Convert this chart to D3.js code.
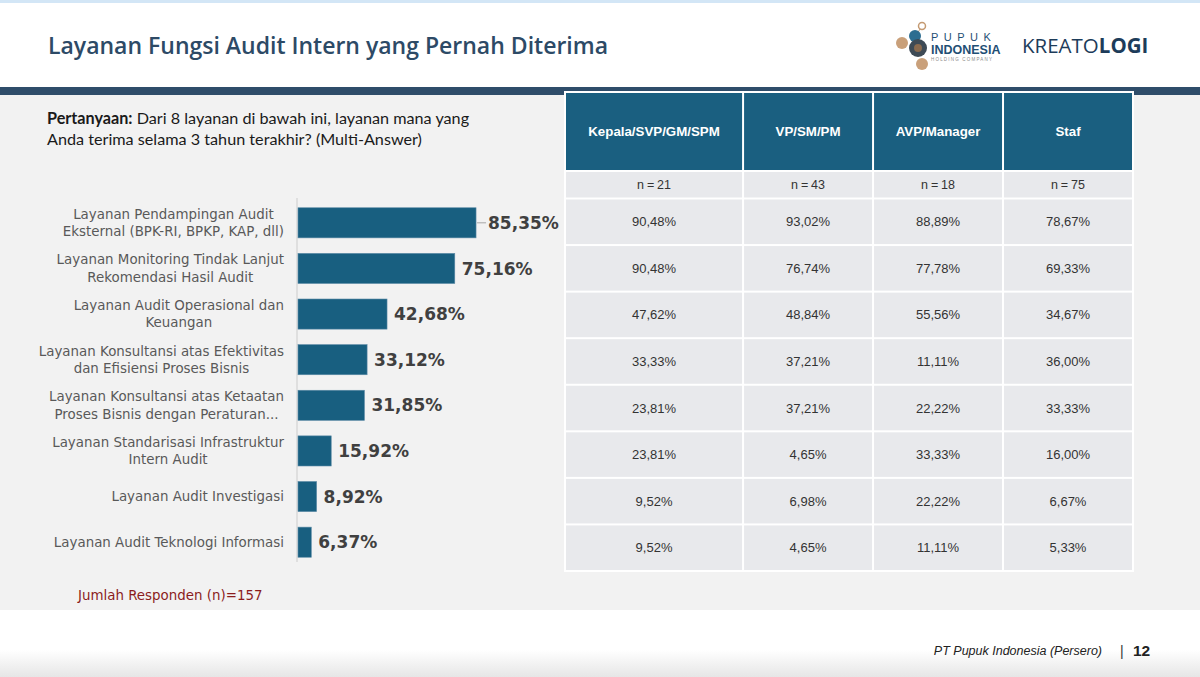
<!DOCTYPE html>
<html>
<head>
<meta charset="utf-8">
<script src="https://cdn.jsdelivr.net/npm/d3@7"></script>
<style>
  body { margin: 0; background: #ffffff; }
  svg { display: block; }
</style>
</head>
<body>
<div id="chart"></div>
<script>
// data
const services = [
  "Layanan Pendampingan Audit|Eksternal (BPK-RI, BPKP, KAP, dll)",
  "Layanan Monitoring Tindak Lanjut|Rekomendasi Hasil Audit",
  "Layanan Audit Operasional dan|Keuangan",
  "Layanan Konsultansi atas Efektivitas|dan Efisiensi Proses Bisnis",
  "Layanan Konsultansi atas Ketaatan|Proses Bisnis dengan Peraturan...",
  "Layanan Standarisasi Infrastruktur|Intern Audit",
  "Layanan Audit Investigasi",
  "Layanan Audit Teknologi Informasi"
];
const overall = [85.35, 75.16, 42.68, 33.12, 31.85, 15.92, 8.92, 6.37];

const groups = ["Kepala/SVP/GM/SPM", "VP/SM/PM", "AVP/Manager", "Staf"];
const groupN = [21, 43, 18, 75];
const kepala = [90.48, 90.48, 47.62, 33.33, 23.81, 23.81, 9.52, 9.52];
const vpsm = [93.02, 76.74, 48.84, 37.21, 37.21, 4.65, 6.98, 4.65];
const avp = [88.89, 77.78, 55.56, 11.11, 22.22, 33.33, 22.22, 11.11];
const staf = [78.67, 69.33, 34.67, 36.00, 33.33, 16.00, 6.67, 5.33];
const groupValues = [kepala, vpsm, avp, staf];

const totalRespondents = 157;

const W = 1200, H = 677;
const fmt = v => d3.format(".2f")(v).replace(".", ",") + "%";

const svg = d3.select("#chart").append("svg")
  .attr("width", W).attr("height", H);

// ---- page frame ----
const defs = svg.append("defs");
const grad = defs.append("linearGradient").attr("id", "foot")
  .attr("x1", 0).attr("y1", 0).attr("x2", 0).attr("y2", 1);
grad.append("stop").attr("offset", "0").attr("stop-color", "#ffffff");
grad.append("stop").attr("offset", "1").attr("stop-color", "#e6e6e6");

svg.append("rect").attr("width", W).attr("height", H).attr("fill", "#ffffff");
svg.append("rect").attr("width", W).attr("height", 3).attr("fill", "#d3e6f6");
svg.append("rect").attr("y", 94).attr("width", W).attr("height", 516).attr("fill", "#f2f2f2");
svg.append("rect").attr("y", 87).attr("width", W).attr("height", 8).attr("fill", "#2f4d6a");
svg.append("rect").attr("y", 650).attr("width", W).attr("height", 27).attr("fill", "url(#foot)");

svg.append("text")
  .attr("x", 48).attr("y", 54)
  .style("font-family", "'Open Sans', sans-serif")
  .style("font-weight", 600)
  .style("font-size", "23px")
  .style("fill", "#2d4a66")
  .text("Layanan Fungsi Audit Intern yang Pernah Diterima");

// logos (rough)
const logo = svg.append("g");
logo.append("circle").attr("cx", 922).attr("cy", 26).attr("r", 3.5)
  .attr("fill", "none").attr("stroke", "#c49a72").attr("stroke-width", 1.5);
logo.append("line").attr("x1", 920).attr("y1", 29).attr("x2", 917).attr("y2", 34)
  .attr("stroke", "#c49a72");
logo.append("circle").attr("cx", 902).attr("cy", 43).attr("r", 6).attr("fill", "#c9a07a");
logo.append("circle").attr("cx", 922).attr("cy", 64).attr("r", 6).attr("fill", "#c9a07a");
logo.append("circle").attr("cx", 915).attr("cy", 36).attr("r", 6).attr("fill", "#2c6d90");
logo.append("circle").attr("cx", 918).attr("cy", 48).attr("r", 9).attr("fill", "#3e4a55");
logo.append("circle").attr("cx", 918).attr("cy", 48).attr("r", 4).attr("fill", "#8a6a4e");
logo.append("text").attr("x", 931).attr("y", 41)
  .style("font-family", "'Liberation Sans', sans-serif").style("font-size", "11px")
  .style("letter-spacing", "5.5px").style("fill", "#1f4f75").text("PUPUK");
logo.append("text").attr("x", 931).attr("y", 54)
  .style("font-family", "'Liberation Sans', sans-serif").style("font-size", "12.5px")
  .style("font-weight", "bold").style("fill", "#1f4f75").text("INDONESIA");
logo.append("text").attr("x", 931).attr("y", 61)
  .style("font-family", "'Liberation Sans', sans-serif").style("font-size", "4.5px")
  .style("letter-spacing", "1.2px").style("fill", "#8a8a8a").text("HOLDING COMPANY");
const kt = svg.append("text").attr("x", 1022).attr("y", 53)
  .style("font-family", "'Open Sans', sans-serif").style("font-size", "20.5px")
  .style("fill", "#1d3c5a");
kt.append("tspan").style("font-weight", 400).text("KREATO");
kt.append("tspan").style("font-weight", 700).text("LOGI");

// ---- question ----
const q = svg.append("text").attr("x", 47).attr("y", 124)
  .style("font-family", "Lato, sans-serif").style("font-size", "16.2px").style("fill", "#1a1a1a");
q.append("tspan").style("font-weight", 700).text("Pertanyaan:");
q.append("tspan").text(" Dari 8 layanan di bawah ini, layanan mana yang");
svg.append("text").attr("x", 47).attr("y", 145)
  .style("font-family", "Lato, sans-serif").style("font-size", "16.2px").style("fill", "#1a1a1a")
  .text("Anda terima selama 3 tahun terakhir? (Multi-Answer)");

// ---- bar chart ----
const x0 = 298;
const x = d3.scaleLinear().domain([0, 100]).range([x0, x0 + 208.6]);
const y = d3.scaleBand().domain(services).range([200, 565]).paddingInner(0.34).paddingOuter(0.17);

svg.append("line")
  .attr("x1", x0 - 1).attr("x2", x0 - 1)
  .attr("y1", 198).attr("y2", 562)
  .attr("stroke", "#d9d9d9").attr("stroke-width", 1.5);

const bars = svg.append("g").selectAll("g").data(services).join("g");
bars.append("rect")
  .attr("x", x0)
  .attr("y", d => y(d))
  .attr("width", (d, i) => x(overall[i]) - x0)
  .attr("height", y.bandwidth())
  .attr("fill", "#185f80")
  .attr("stroke", "#5b8aa6").attr("stroke-width", 0.6);

// category labels: block right-aligned to the axis, lines centred in the block
const labelRight = 284;
bars.append("text")
  .attr("text-anchor", "middle")
  .attr("y", d => y(d) + y.bandwidth() / 2)
  .style("font-family", "'DejaVu Sans', sans-serif")
  .style("font-size", "13.4px")
  .style("fill", "#595959")
  .each(function (d) {
    const lines = d.split("|");
    const t = d3.select(this);
    const spans = lines.map((l, k) => t.append("tspan")
      .attr("dy", k === 0 ? (lines.length === 1 ? "0.35em" : "-0.3em") : "1.3em")
      .text(l));
    const maxW = d3.max(spans, s => s.node().getComputedTextLength());
    spans.forEach(s => s.attr("x", labelRight - maxW / 2));
  });

// first label sits a bit further out with a leader line
const gap = overall.map((v, i) => i === 0 ? 12 : 7);
bars.filter((d, i) => gap[i] > 8).append("line")
  .attr("x1", (d, i) => x(overall[i]) + 1)
  .attr("x2", (d, i) => x(overall[i]) + gap[i] - 2)
  .attr("y1", d => y(d) + y.bandwidth() / 2)
  .attr("y2", d => y(d) + y.bandwidth() / 2)
  .attr("stroke", "#a6a6a6");
bars.append("text")
  .attr("x", (d, i) => x(overall[i]) + gap[i])
  .attr("y", d => y(d) + y.bandwidth() / 2)
  .attr("dy", "0.36em")
  .style("font-family", "'DejaVu Sans', sans-serif")
  .style("font-weight", "bold")
  .style("font-size", "17px")
  .style("fill", "#404040")
  .text((d, i) => fmt(overall[i]));

svg.append("text").attr("x", 78).attr("y", 600)
  .style("font-family", "'DejaVu Sans', sans-serif").style("font-size", "13.4px")
  .style("fill", "#8b1c1c")
  .text("Jumlah Responden (n)=" + totalRespondents);

// ---- table ----
const tLeft = 565, tRight = 1133;
const colWeight = [1.37, 1, 1, 1];
const colEdges = [0];
colWeight.forEach(w => colEdges.push(colEdges[colEdges.length - 1] + w));
const cx = d3.scaleLinear().domain([0, colEdges[colEdges.length - 1]]).range([tLeft, tRight]);
const rowY = d3.scaleBand().domain(services).range([198.5, 571]);
const headTop = 92, headBot = 171, nBot = 198.5;

const table = svg.append("g");
table.append("rect").attr("x", tLeft - 1).attr("y", headTop - 1)
  .attr("width", tRight - tLeft + 2).attr("height", 571 - headTop + 2)
  .attr("fill", "#ffffff");

const cols = table.selectAll("g.col").data(groups).join("g").attr("class", "col");
const cellX = (i) => cx(colEdges[i]) + 1;
const cellW = (i) => cx(colEdges[i + 1]) - cx(colEdges[i]) - 2;
const cellMid = (i) => (cx(colEdges[i]) + cx(colEdges[i + 1])) / 2;

cols.append("rect")
  .attr("x", (d, i) => cellX(i)).attr("y", headTop + 1)
  .attr("width", (d, i) => cellW(i)).attr("height", headBot - headTop - 2)
  .attr("fill", "#1a5f80");
cols.append("text")
  .attr("x", (d, i) => cellMid(i))
  .attr("y", (headTop + headBot) / 2).attr("dy", "0.35em")
  .attr("text-anchor", "middle")
  .style("font-family", "'Liberation Sans', Arial, sans-serif")
  .style("font-weight", "bold").style("font-size", "13.3px").style("fill", "#ffffff")
  .text(d => d);

cols.append("rect")
  .attr("x", (d, i) => cellX(i)).attr("y", headBot + 1)
  .attr("width", (d, i) => cellW(i)).attr("height", nBot - headBot - 2)
  .attr("fill", "#e8e9ec");
cols.append("text")
  .attr("x", (d, i) => cellMid(i))
  .attr("y", (headBot + nBot) / 2).attr("dy", "0.35em")
  .attr("text-anchor", "middle")
  .style("font-family", "'Liberation Sans', Arial, sans-serif")
  .style("font-size", "12.5px").style("fill", "#333333")
  .style("word-spacing", "-0.6px")
  .text((d, i) => "n = " + groupN[i]);

cols.each(function (g, i) {
  const col = d3.select(this);
  const vals = groupValues[i];
  col.selectAll("rect.cell").data(services).join("rect").attr("class", "cell")
    .attr("x", cellX(i)).attr("y", d => rowY(d) + 1)
    .attr("width", cellW(i)).attr("height", rowY.bandwidth() - 2)
    .attr("fill", "#e8e9ec");
  col.selectAll("text.val").data(services).join("text").attr("class", "val")
    .attr("x", cellMid(i))
    .attr("y", d => rowY(d) + rowY.bandwidth() / 2).attr("dy", "0.35em")
    .attr("text-anchor", "middle")
    .style("font-family", "'Liberation Sans', Arial, sans-serif")
    .style("font-size", "13px").style("fill", "#333333")
    .text((d, k) => fmt(vals[k]));
});

// ---- footer ----
svg.append("text").attr("x", 1102).attr("y", 655).attr("text-anchor", "end")
  .style("font-family", "'Liberation Sans', Arial, sans-serif")
  .style("font-style", "italic").style("font-size", "12.5px").style("fill", "#222222")
  .text("PT Pupuk Indonesia (Persero)");
svg.append("text").attr("x", 1120).attr("y", 656)
  .style("font-family", "'Liberation Sans', Arial, sans-serif")
  .style("font-size", "14px").style("fill", "#333333").text("|");
svg.append("text").attr("x", 1133).attr("y", 656)
  .style("font-family", "'Liberation Sans', Arial, sans-serif")
  .style("font-weight", "bold").style("font-size", "15.5px").style("fill", "#222222").text("12");
</script>
</body>
</html>
